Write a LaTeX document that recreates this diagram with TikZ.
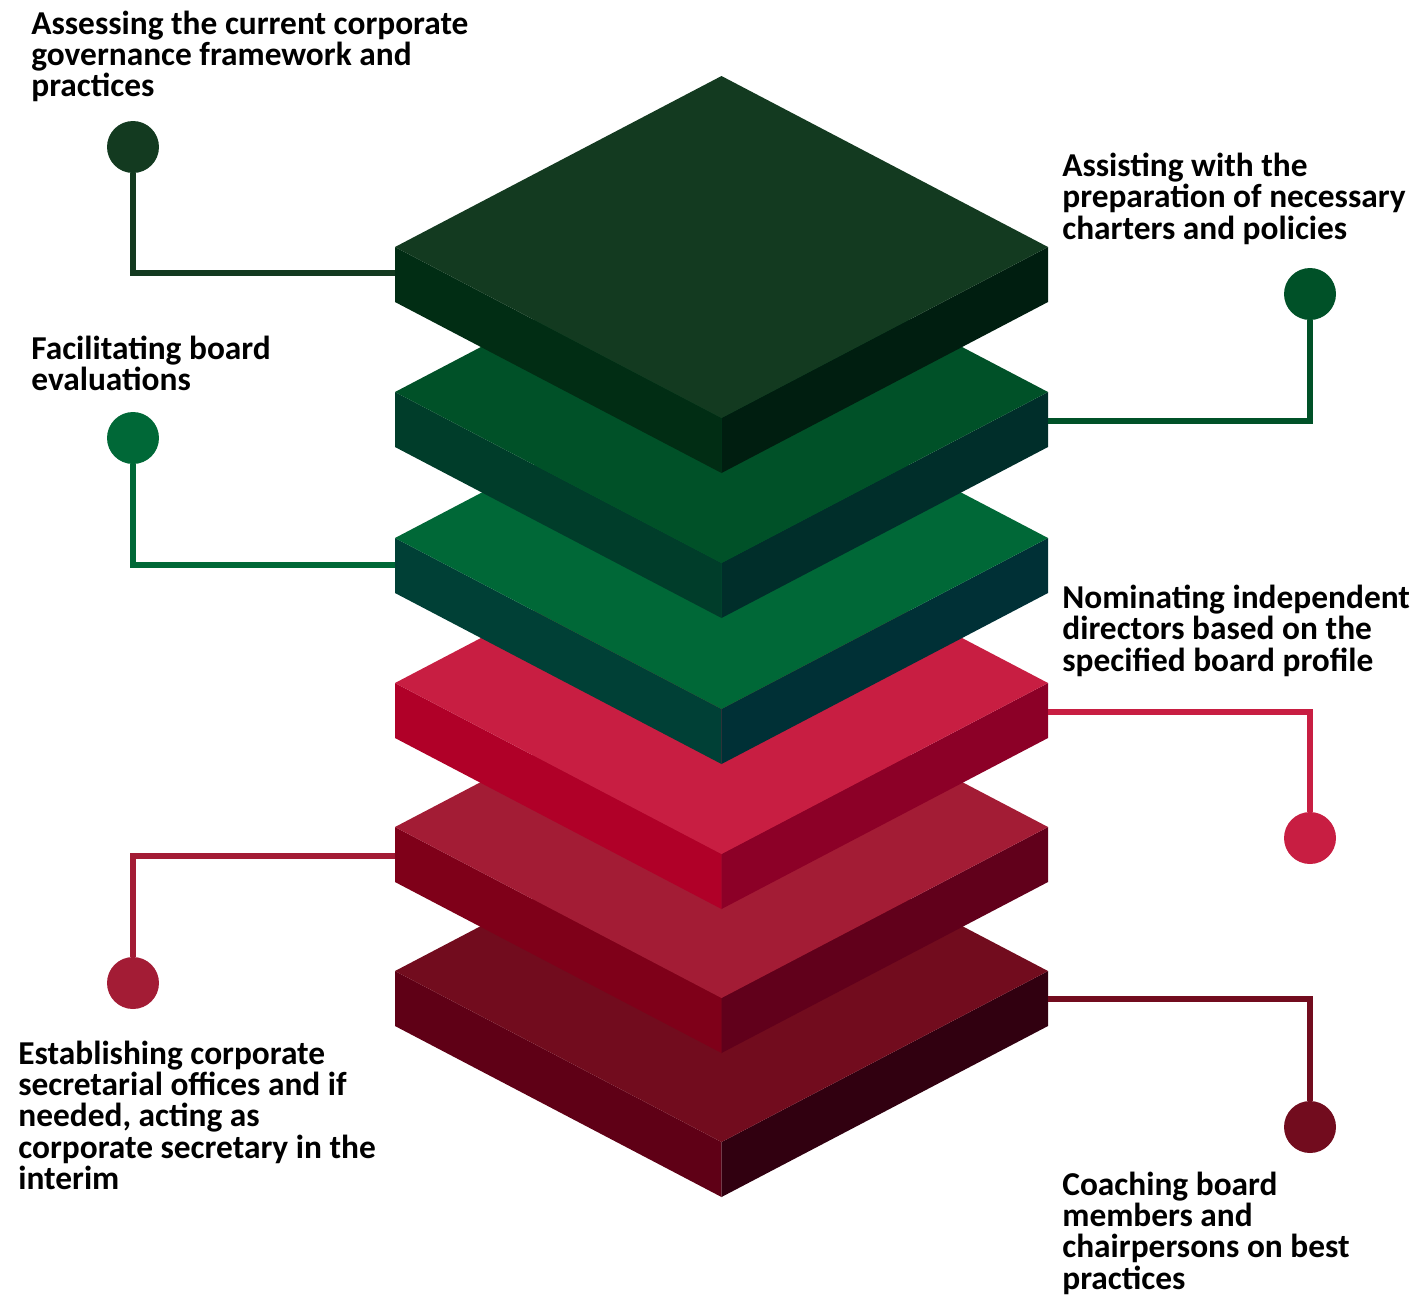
\documentclass[tikz,border=0pt]{standalone}
\usepackage{fontspec}
\setmainfont{Carlito}
\usepackage{tikz}
\usetikzlibrary{calc}

\definecolor{gA}{HTML}{133A20}
\definecolor{gAl}{HTML}{012D14}
\definecolor{gAr}{HTML}{001E10}
\definecolor{gB}{HTML}{005128}
\definecolor{gBl}{HTML}{003D2A}
\definecolor{gBr}{HTML}{002E2A}
\definecolor{gC}{HTML}{006837}
\definecolor{gCl}{HTML}{004036}
\definecolor{gCr}{HTML}{003036}
\definecolor{rA}{HTML}{C81E42}
\definecolor{rAl}{HTML}{B00028}
\definecolor{rAr}{HTML}{8C0027}
\definecolor{rB}{HTML}{A31C35}
\definecolor{rBl}{HTML}{7F0019}
\definecolor{rBr}{HTML}{61001B}
\definecolor{rC}{HTML}{720C1E}
\definecolor{rCl}{HTML}{5F0016}
\definecolor{rCr}{HTML}{310010}

\tikzset{
  dot/.style={circle, minimum size=1.04cm, inner sep=0pt},
  link/.style={line width=3.4pt},
  label/.style={anchor=north west, inner sep=0pt, align=left,
    font=\fontsize{19}{17.7}\selectfont\bfseries}
}

\begin{document}
\begin{tikzpicture}[x=0.02cm, y=-0.02cm]
    \useasboundingbox (0,0) rectangle (1416,1296);
    \def\w{326.5}
    \def\h{171}
    \def\t{55}
    % slabs, bottom one first
    \foreach \y/\ct/\cl/\cr in {971/rC/rCl/rCr, 827/rB/rBl/rBr, 683/rA/rAl/rAr,
                               538/gC/gCl/gCr, 392/gB/gBl/gBr, 247/gA/gAl/gAr} {
      \fill[\cl] (395,\y) -- (395+\w,\y+\h) -- (395+\w,\y+\h+\t) -- (395,\y+\t) -- cycle;
      \fill[\cr] (395+\w,\y+\h) -- (1048,\y) -- (1048,\y+\t) -- (395+\w,\y+\h+\t) -- cycle;
      \fill[\ct] (395,\y) -- (395+\w,\y-\h) -- (1048,\y) -- (395+\w,\y+\h) -- cycle;
    }
    % side anchors of the connectors
    \coordinate (s1) at (395, 273);
    \coordinate (s2) at (1048, 421);
    \coordinate (s3) at (395, 565);
    \coordinate (s4) at (1048, 712);
    \coordinate (s5) at (395, 856);
    \coordinate (s6) at (1048, 999);
    \node[dot, fill=gA] (d1) at (133, 147) {};
    \node[dot, fill=gB] (d2) at (1310, 294) {};
    \node[dot, fill=gC] (d3) at (133, 438) {};
    \node[dot, fill=rA] (d4) at (1310, 838) {};
    \node[dot, fill=rB] (d5) at (133, 983) {};
    \node[dot, fill=rC] (d6) at (1310, 1127) {};
    \draw[link, gA] (d1) |- (s1);
    \draw[link, gB] (d2) |- (s2);
    \draw[link, gC] (d3) |- (s3);
    \draw[link, rA] (d4) |- (s4);
    \draw[link, rB] (d5) |- (s5);
    \draw[link, rC] (d6) |- (s6);
    % texts
    \node[label] (t1) at (31, 11) {Assessing the current corporate\\governance framework and\\practices};
    \node[label] (t2) at (1062, 153) {Assisting with the\\preparation of necessary\\charters and policies};
    \node[label] (t3) at (31, 336) {Facilitating board\\evaluations};
    \node[label] (t4) at (1062, 585) {Nominating independent\\directors based on the\\specified board profile};
    \node[label] (t5) at (18, 1041) {Establishing corporate\\secretarial offices and if\\needed, acting as\\corporate secretary in the\\interim};
    \node[label] (t6) at (1062, 1172) {Coaching board\\members and\\chairpersons on best\\practices};
  \end{tikzpicture}
\end{document}
